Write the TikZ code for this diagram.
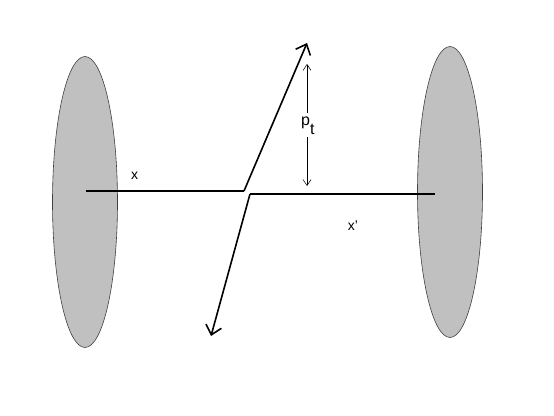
\documentclass[tikz,border=0pt]{standalone}
\usepackage{fontspec}
\setmainfont{Liberation Sans}
\usetikzlibrary{arrows.meta,shapes.geometric}
\definecolor{discgray}{HTML}{C0C0C0}
\begin{document}
\begin{tikzpicture}[x=1pt,y=-1pt,
  disc/.style={ellipse,draw=black!75,line width=0.6pt,fill=discgray,minimum width=65pt,minimum height=291pt,inner sep=0pt},
  beam/.style={line width=1.6pt},
  jet/.style={line width=1.6pt,-{Straight Barb[length=9pt,width=16pt]}},
  ptarrow/.style={line width=0.5pt,{Straight Barb[length=6pt,width=8pt]}-{Straight Barb[length=6pt,width=8pt]}},
  lbl/.style={inner sep=0pt,font=\fontsize{14pt}{16pt}\selectfont}]
\useasboundingbox (0,0) rectangle (554,415);
\node[disc] (L) at (85,202) {};
\node[disc] (R) at (450,192) {};
\coordinate (ls) at (86,191);
\coordinate (le) at (244,191);
\coordinate (rs) at (250,194);
\coordinate (re) at (435,194);
\coordinate (up) at (307,43);
\coordinate (dn) at (211,336);
\coordinate (pa) at (307,64);
\coordinate (pb) at (307,186);
\draw[beam] (ls) -- (le);
\draw[beam] (rs) -- (re);
\draw[jet] (le) -- (up);
\draw[jet] (rs) -- (dn);
\draw[ptarrow] (pa) -- (pb);
\node[lbl] (xl) at (134.5,175.5) {x};
\node[lbl] (xr) at (353,225.5) {x'};
\node[fill=white,inner xsep=1pt,inner ysep=3pt,font=\fontsize{16pt}{18pt}\selectfont,anchor=base west] (pt) at (300,125) {p\raisebox{-9pt}{t}};
\end{tikzpicture}
\end{document}
